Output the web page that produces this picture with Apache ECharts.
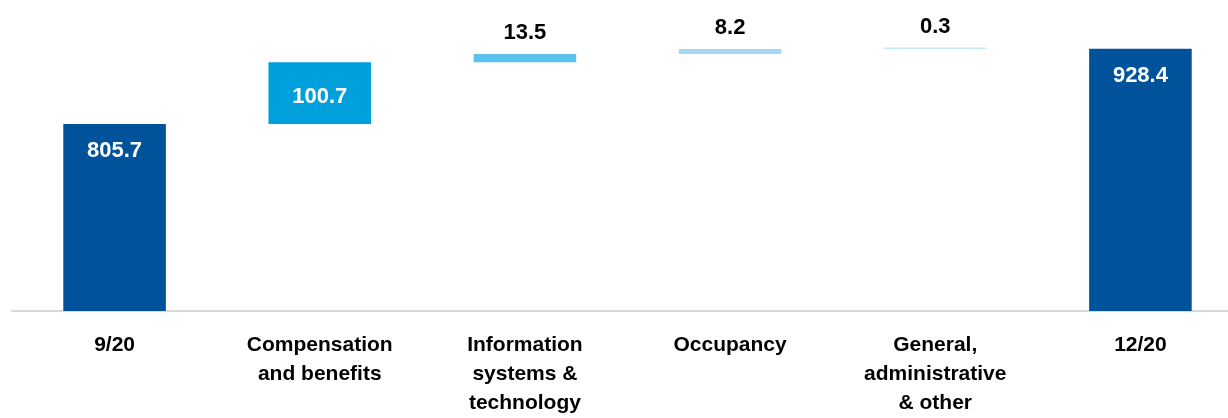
<!DOCTYPE html>
<html>
<head>
<meta charset="utf-8">
<script src="https://cdn.jsdelivr.net/npm/echarts@6/dist/echarts.min.js"></script>
<style>
  html, body { margin: 0; padding: 0; background: #ffffff; overflow: hidden; }
  #chart { width: 1260px; height: 418px; }
</style>
</head>
<body>
<div id="chart"></div>
<script>
// Expense bridge from 9/20 to 12/20
const categories = [
  '9/20',
  'Compensation\nand benefits',
  'Information\nsystems &\ntechnology',
  'Occupancy',
  'General,\nadministrative\n& other',
  '12/20'
];
const values = [805.7, 100.7, 13.5, 8.2, 0.3, 928.4];
const isTotal = [true, false, false, false, false, true];
const barColors = ['#00539B', '#00A0DC', '#5BC2EB', '#A6D9F3', '#C3EAF3', '#00539B'];

// Invisible base under each step bar: running total before that step
const base = [];
let running = 0;
values.forEach((v, i) => {
  if (isTotal[i]) { base.push(0); running = v; }
  else { base.push(running); running += v; }
});

const FONT = "'Liberation Sans', Arial, sans-serif";

function labelFor(i) {
  if (isTotal[i]) {
    return { show: true, position: 'insideTop', distance: 16, color: '#ffffff',
             fontFamily: FONT, fontWeight: 'bold', fontSize: 22 };
  }
  if (i === 1) {
    return { show: true, position: 'inside', offset: [0, 4], color: '#ffffff',
             fontFamily: FONT, fontWeight: 'bold', fontSize: 22 };
  }
  return { show: true, position: 'top', distance: 10, color: '#000000',
           fontFamily: FONT, fontWeight: 'bold', fontSize: 22 };
}

const chart = echarts.init(document.getElementById('chart'), null, { renderer: 'canvas' });
chart.setOption({
  animation: false,
  backgroundColor: '#ffffff',
  grid: { left: 12, width: 1231, top: 5, height: 306, containLabel: false },
  xAxis: {
    type: 'category',
    data: categories,
    axisLine: { show: true, lineStyle: { color: '#D9D9D9', width: 2 } },
    axisTick: { show: false },
    axisLabel: {
      interval: 0, margin: 20, color: '#000000',
      fontFamily: FONT, fontWeight: 'bold', fontSize: 21, lineHeight: 29
    }
  },
  yAxis: {
    type: 'value', min: 500, max: 1000, show: false,
    splitLine: { show: false }
  },
  series: [
    {
      type: 'bar', stack: 'bridge', barWidth: '50%', silent: true,
      itemStyle: { color: 'transparent' },
      data: base
    },
    {
      type: 'bar', stack: 'bridge', barWidth: '50%', barMinHeight: 1.5,
      data: values.map((v, i) => ({
        value: v,
        itemStyle: { color: barColors[i] },
        label: labelFor(i)
      }))
    }
  ]
});
</script>
</body>
</html>
